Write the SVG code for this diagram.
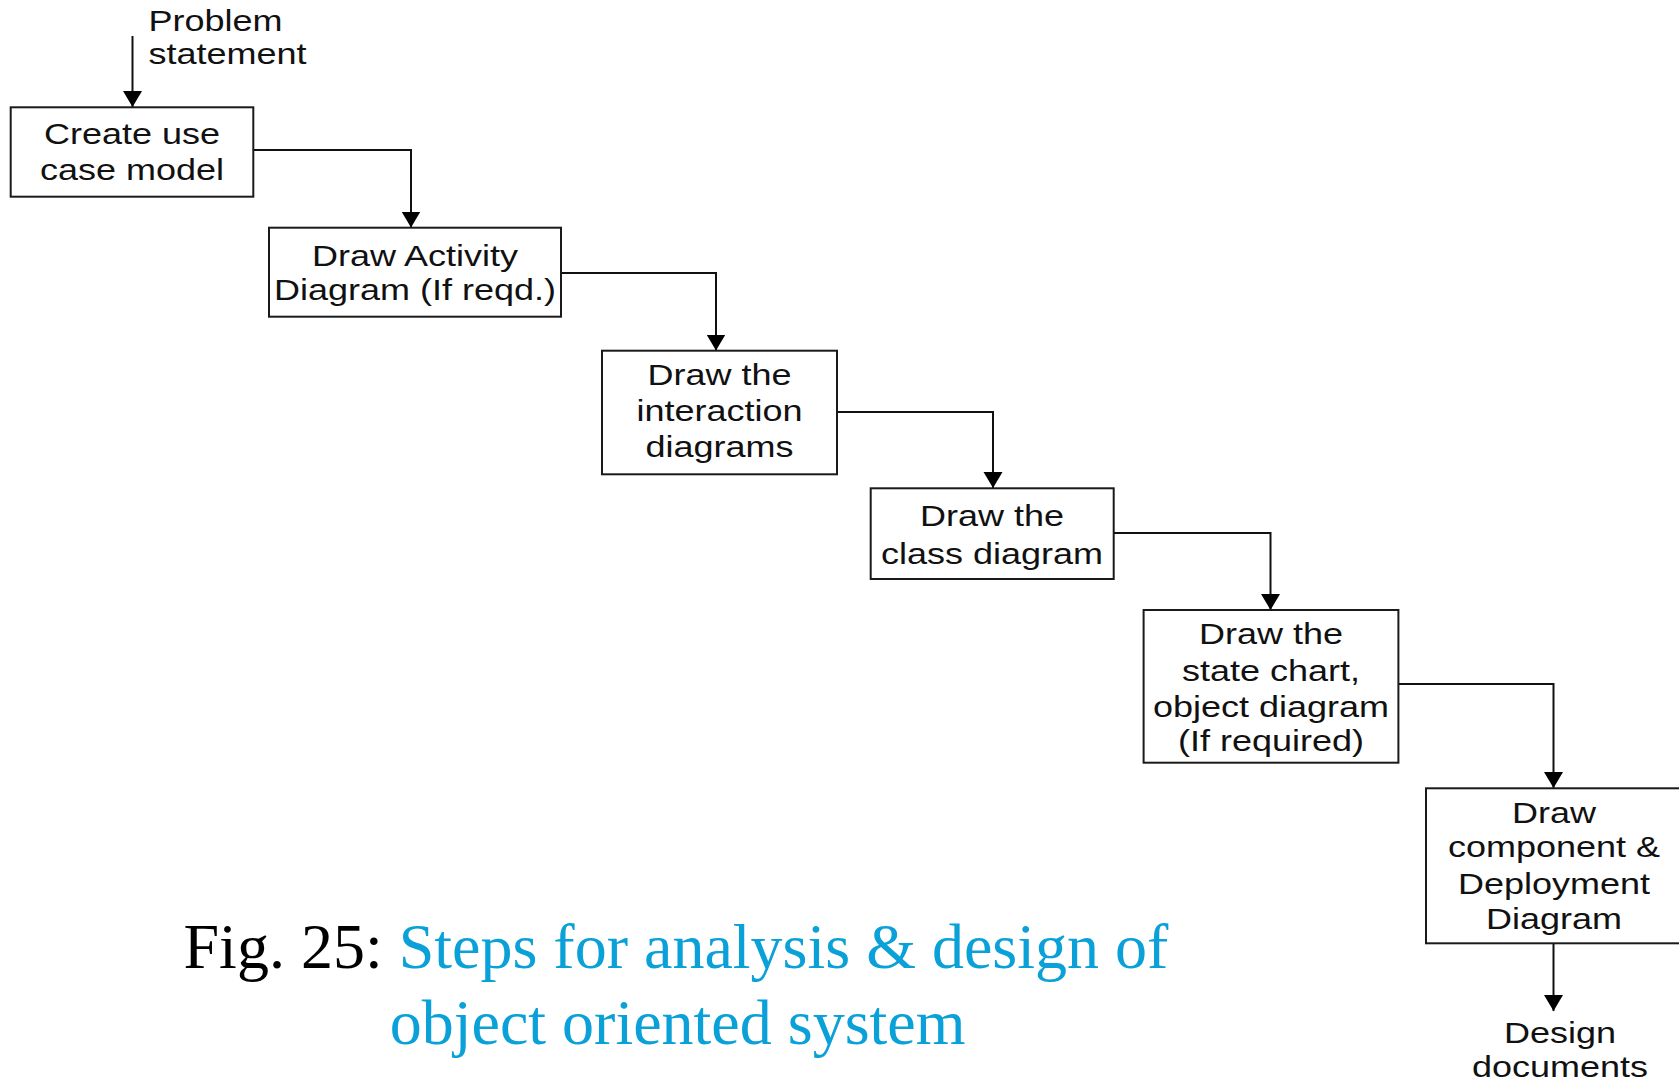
<svg xmlns="http://www.w3.org/2000/svg" width="1679" height="1079" viewBox="0 0 1679 1079">
  <style>
    .box { fill: #ffffff; stroke: #1a1a1a; stroke-width: 2; }
    .lbl { font-family: "Liberation Sans", Arial, sans-serif; font-size: 30px; fill: #111111; text-anchor: middle; }
    .lbl-start { text-anchor: start; }
    .conn { fill: none; stroke: #111111; stroke-width: 2; marker-end: url(#arrow); }
    .cap { font-family: "Liberation Serif", "Times New Roman", serif; font-size: 64px; }
    .cap-num { fill: #000000; }
    .cap-title { fill: #0aa0d8; }
  </style>
  <defs>
    <marker id="arrow" markerUnits="userSpaceOnUse" markerWidth="17" markerHeight="20" viewBox="0 0 17 20" refX="16" refY="10" orient="auto">
      <path d="M0,0.5 L16,10 L0,19.5 z" fill="#000000"/>
    </marker>
  </defs>

  <rect width="1679" height="1079" fill="#ffffff"/>

  <!-- connectors -->
  <g id="connectors">
    <path class="conn" d="M132.5,36 V107"/>
    <path class="conn" d="M253,150 H411 V227.5"/>
    <path class="conn" d="M561,273 H716 V350.5"/>
    <path class="conn" d="M837,412 H993 V488"/>
    <path class="conn" d="M1114,533 H1270.5 V610"/>
    <path class="conn" d="M1395,684 H1553.5 V788"/>
    <path class="conn" d="M1553.5,943 V1011"/>
  </g>

  <!-- input text -->
  <g id="problem-statement">
    <text class="lbl lbl-start" transform="translate(148.5 0) scale(1.2 1)"><tspan x="0" y="31">Problem</tspan><tspan x="0" y="64">statement</tspan></text>
  </g>

  <g id="use-case-model">
    <rect class="box" x="10.7" y="107.3" width="242.6" height="89.4"/>
    <text class="lbl" transform="translate(132 0) scale(1.2 1)"><tspan x="0" y="144">Create use</tspan><tspan x="0" y="180">case model</tspan></text>
  </g>

  <g id="activity-diagram">
    <rect class="box" x="269" y="227.7" width="292" height="89"/>
    <text class="lbl" transform="translate(415 0) scale(1.2 1)"><tspan x="0" y="266">Draw Activity</tspan><tspan x="0" y="300">Diagram (If reqd.)</tspan></text>
  </g>

  <g id="interaction-diagrams">
    <rect class="box" x="602" y="350.7" width="235" height="123.6"/>
    <text class="lbl" transform="translate(719.5 0) scale(1.2 1)"><tspan x="0" y="385">Draw the</tspan><tspan x="0" y="421">interaction</tspan><tspan x="0" y="457">diagrams</tspan></text>
  </g>

  <g id="class-diagram">
    <rect class="box" x="870.7" y="488.3" width="243" height="90.7"/>
    <text class="lbl" transform="translate(992 0) scale(1.2 1)"><tspan x="0" y="526">Draw the</tspan><tspan x="0" y="564">class diagram</tspan></text>
  </g>

  <g id="state-object-diagram">
    <rect class="box" x="1143.6" y="610" width="254.8" height="152.7"/>
    <text class="lbl" transform="translate(1271 0) scale(1.2 1)"><tspan x="0" y="644">Draw the</tspan><tspan x="0" y="681">state chart,</tspan><tspan x="0" y="717">object diagram</tspan><tspan x="0" y="751">(If required)</tspan></text>
  </g>

  <g id="component-deployment">
    <rect class="box" x="1426" y="788.3" width="262" height="155"/>
    <text class="lbl" transform="translate(1554 0) scale(1.2 1)"><tspan x="0" y="823">Draw</tspan><tspan x="0" y="857">component &amp;</tspan><tspan x="0" y="894">Deployment</tspan><tspan x="0" y="929">Diagram</tspan></text>
  </g>

  <!-- output text -->
  <g id="design-documents">
    <text class="lbl" transform="translate(1560 0) scale(1.2 1)"><tspan x="0" y="1043">Design</tspan><tspan x="0" y="1077">documents</tspan></text>
  </g>

  <!-- caption -->
  <g id="caption">
    <text class="cap" x="183.5" y="968"><tspan class="cap-num">Fig. 25: </tspan><tspan class="cap-title">Steps for analysis &amp; design of</tspan></text>
    <text class="cap cap-title" x="389.7" y="1044">object oriented system</text>
  </g>
</svg>
